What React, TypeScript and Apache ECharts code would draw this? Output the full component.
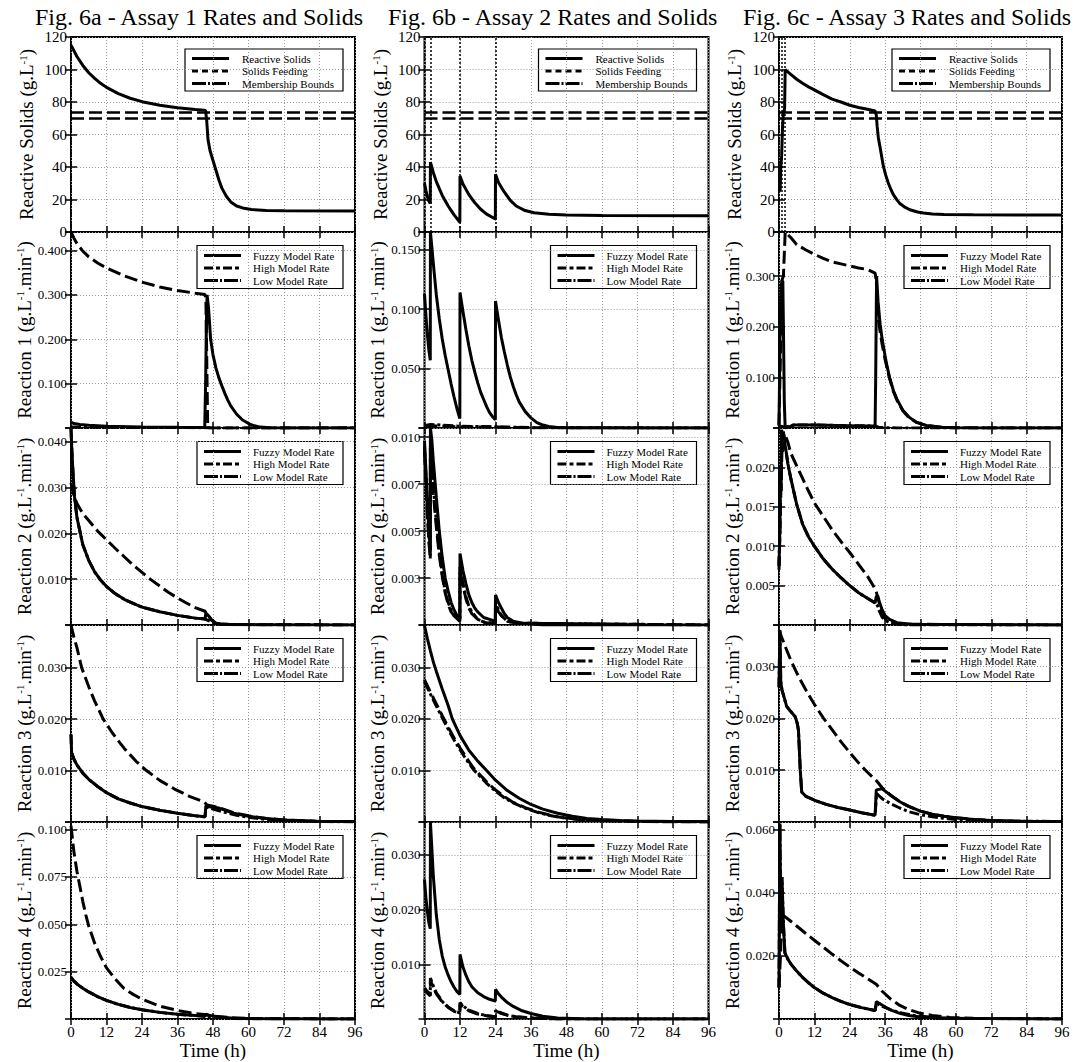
import React, { useEffect, useRef } from "react";
import * as echarts from "echarts";

type Pts = [number, number][];

// ---------------- Fig. 6a : Assay 1 ----------------
const a_solids: Pts = [[0,115],[2,108],[4,102.5],[6,98],[8,94.5],[10,91.5],[12,89],[16,85.2],[20,82.3],[24,80.2],[30,78],[36,76.5],[42,75.4],[45,75],[45.5,74.7],[45.9,68],[46.3,57],[47,50],[48,44],[49,38],[50,32],[51,27],[52.5,22],[54,18.5],[56,16],[58,14.8],[61,13.8],[66,13.3],[72,13.1],[96,13]];
const a_r1_fuzzy: Pts = [[0,0.013],[1,0.01],[3,0.008],[6,0.006],[12,0.004],[24,0.0025],[36,0.0015],[45.2,0.001],[45.5,0.1],[45.8,0.25],[46,0.3],[46.5,0.27],[47.2,0.2],[48,0.165],[49,0.135],[50,0.113],[51,0.095],[52,0.078],[53,0.063],[54,0.05],[56,0.031],[58,0.018],[60,0.01],[62,0.005],[64,0.002],[67,0.0005],[72,0],[96,0]];
const a_r1_high: Pts = [[0,0.002],[12,0.0015],[30,0.001],[45,0.0008],[47,0.0003],[52,0.0001],[96,0]];
const a_r1_low: Pts = [[0,0.442],[1,0.428],[2,0.416],[4,0.399],[6,0.386],[9,0.372],[12,0.361],[18,0.343],[24,0.329],[30,0.318],[36,0.31],[42,0.304],[45.3,0.301],[45.6,0.29],[45.9,0.15],[46.2,0],[96,0]];
const a_r2_fuzzy: Pts = [[0,0.0428],[0.3,0.038],[0.7,0.033],[1.2,0.028],[2,0.0235],[3,0.0205],[4,0.0175],[6,0.0141],[8,0.0116],[10,0.0098],[12,0.0084],[15,0.0068],[18,0.0056],[21,0.0047],[24,0.0039],[30,0.0029],[36,0.0021],[42,0.0015],[45.3,0.0013],[45.6,0.0026],[46.5,0.002],[47.5,0.0011],[49,0.0004],[51,0.0001],[96,0]];
const a_r2_high: Pts = [[0,0.0428],[0.3,0.038],[0.7,0.033],[1.2,0.028],[2,0.0235],[3,0.0205],[4,0.0175],[6,0.0141],[8,0.0116],[10,0.0098],[12,0.0084],[15,0.0068],[18,0.0056],[21,0.0047],[24,0.0039],[30,0.0029],[36,0.0021],[42,0.0015],[45.3,0.0013],[47,0.0008],[50,0.0003],[55,0.0001],[96,0]];
const a_r2_low: Pts = [[0,0.031],[0.5,0.0295],[1,0.0283],[2,0.0265],[4,0.0243],[6,0.0228],[9,0.0205],[12,0.0186],[15,0.0167],[18,0.0149],[21,0.0131],[24,0.0115],[27,0.0099],[30,0.0085],[33,0.0071],[36,0.0059],[39,0.0048],[42,0.0038],[45.3,0.003],[45.7,0.0026],[46.5,0.002],[47.5,0.0011],[49,0.0004],[51,0.0001],[96,0]];
const a_r3_fuzzy: Pts = [[0,0.017],[0.2,0.0135],[1,0.0122],[2,0.0111],[4,0.0095],[6,0.0083],[9,0.0069],[12,0.0057],[16,0.0045],[20,0.0037],[24,0.003],[30,0.0023],[36,0.0017],[42,0.0012],[45.3,0.001],[45.6,0.0032],[46,0.003],[50,0.0027],[55,0.0017],[60,0.0011],[66,0.0007],[72,0.0004],[84,0.0001],[96,0.0001]];
const a_r3_high: Pts = [[0,0.017],[0.2,0.0135],[1,0.0122],[2,0.0111],[4,0.0095],[6,0.0083],[9,0.0069],[12,0.0057],[16,0.0045],[20,0.0037],[24,0.003],[30,0.0023],[36,0.0017],[42,0.0012],[45.3,0.001],[45.6,0.0029],[48,0.0025],[52,0.0019],[56,0.0013],[60,0.0009],[66,0.0005],[72,0.0003],[84,0.0001],[96,0]];
const a_r3_low: Pts = [[0,0.0383],[1,0.0359],[2,0.0339],[3.6,0.03],[6,0.0263],[8,0.0235],[10.9,0.02],[14,0.0173],[18,0.0143],[22,0.0118],[25.5,0.01],[30,0.0081],[35,0.0064],[40,0.005],[45,0.0039],[46,0.0033],[50,0.0028],[55,0.0018],[60,0.0012],[66,0.0007],[72,0.0004],[84,0.0001],[96,0.0001]];
const a_r4_fuzzy: Pts = [[0,0.022],[1,0.02],[2,0.0185],[4,0.0162],[6,0.0143],[9,0.0118],[12,0.0098],[16,0.0077],[20,0.0061],[24,0.0049],[30,0.0035],[36,0.0025],[42,0.0018],[45.3,0.0015],[45.6,0.0025],[47,0.0018],[50,0.001],[55,0.0004],[60,0.0002],[96,0]];
const a_r4_high: Pts = [[0,0.022],[1,0.02],[2,0.0185],[4,0.0162],[6,0.0143],[9,0.0118],[12,0.0098],[16,0.0077],[20,0.0061],[24,0.0049],[30,0.0035],[36,0.0025],[42,0.0018],[45.3,0.0015],[47,0.001],[50,0.0006],[55,0.0002],[96,0]];
const a_r4_low: Pts = [[0,0.102],[1,0.088],[2,0.078],[3,0.07],[4,0.062],[5,0.055],[6,0.049],[8,0.04],[10,0.033],[12,0.027],[15,0.021],[18,0.016],[21,0.013],[24,0.0105],[30,0.0068],[36,0.0045],[42,0.0029],[45,0.0024],[48,0.0015],[54,0.0007],[60,0.0003],[72,0.0001],[96,0]];

// ---------------- Fig. 6b : Assay 2 ----------------
const b_solids: Pts = [[0,30],[0.5,25.5],[1,21.5],[1.5,19],[1.95,17.5],[2,43],[3,36.5],[4,31],[6,22.5],[8,16],[10,10.5],[11.95,6],[12,34.5],[13,29.5],[15,23],[17,18],[19,14],[21,11],[23.95,8],[24,35.5],[25,30.5],[27,24.5],[29,19.5],[31,16],[34,13.2],[37,11.8],[42,10.9],[48,10.5],[60,10.2],[96,10]];
const b_r1_fuzzy: Pts = [[0,0.113],[0.5,0.094],[1,0.078],[1.5,0.065],[1.95,0.057],[2,0.165],[2.5,0.152],[3,0.138],[4,0.112],[5,0.092],[6,0.075],[7,0.061],[8,0.049],[9,0.037],[10,0.026],[11,0.016],[11.95,0.008],[12,0.114],[13,0.098],[14,0.083],[15,0.069],[16,0.057],[17,0.047],[18,0.038],[19,0.03],[20,0.024],[21,0.018],[22,0.013],[23,0.0095],[23.95,0.007],[24,0.107],[25,0.091],[26,0.076],[27,0.064],[28,0.053],[29,0.043],[30,0.035],[31,0.028],[32,0.022],[34,0.014],[36,0.0085],[38,0.0045],[40,0.0025],[42,0.0013],[45,0.0005],[50,0.0001],[96,0]];
const b_r1_high: Pts = [[0,0.002],[2,0.003],[12,0.0015],[24,0.001],[36,0.0003],[96,0]];
const b_r1_low: Pts = [[0,0.001],[2,0.002],[12,0.001],[24,0.0008],[36,0.0002],[96,0]];
const b_r2_fuzzy: Pts = [[0,0.0098],[0.5,0.0082],[1,0.0065],[1.5,0.005],[1.95,0.004],[2,0.0105],[2.5,0.0098],[3,0.0087],[4,0.0068],[5,0.005],[6,0.0036],[7,0.0025],[8,0.0018],[9,0.0012],[10,0.0008],[11,0.0005],[11.95,0.0003],[12,0.0038],[13,0.0029],[14,0.0022],[15,0.0016],[16,0.0012],[17,0.0009],[18,0.0007],[20,0.0004],[22,0.0003],[23.95,0.0002],[24,0.0016],[25,0.0012],[26,0.0009],[27,0.0006],[28,0.0004],[30,0.0002],[33,0.0001],[40,0],[96,0]];
const b_r2_high: Pts = [[0,0.0095],[0.5,0.0078],[1,0.006],[1.5,0.0046],[1.95,0.0037],[2,0.0098],[2.5,0.0086],[3,0.0073],[4,0.0055],[5,0.0039],[6,0.0027],[7,0.0018],[8,0.0012],[9,0.0008],[10,0.0005],[11.95,0.0002],[12,0.0031],[13,0.0022],[14,0.0015],[15,0.001],[16,0.0007],[18,0.0003],[21,0.0001],[23.95,0.0001],[24,0.0012],[25,0.0008],[26,0.0005],[28,0.0002],[31,0.0001],[96,0]];
const b_r2_low: Pts = [[0,0.0092],[0.5,0.0075],[1,0.0058],[1.5,0.0044],[1.95,0.0035],[2,0.0094],[2.5,0.0082],[3,0.007],[4,0.0052],[5,0.0037],[6,0.0026],[7,0.0017],[8,0.0011],[9,0.0007],[10,0.0005],[11.95,0.0002],[12,0.0029],[13,0.0021],[14,0.0014],[15,0.0009],[16,0.0006],[18,0.0003],[21,0.0001],[23.95,0.0001],[24,0.0011],[25,0.0007],[26,0.0005],[28,0.0002],[31,0.0001],[96,0]];
const b_r3_fuzzy: Pts = [[0,0.0381],[1,0.0355],[2,0.0332],[3,0.031],[4,0.0292],[6,0.0258],[8,0.0226],[9.4,0.02],[12,0.0168],[15,0.0139],[18,0.0118],[21,0.01],[24,0.0081],[28,0.0061],[32,0.0046],[36,0.0034],[40,0.0025],[45,0.0017],[50,0.0011],[55,0.0007],[60,0.0005],[66,0.0003],[72,0.0002],[84,0.0001],[96,0.0001]];
const b_r3_high: Pts = [[0,0.0272],[1,0.026],[2,0.0248],[4,0.0225],[6,0.0202],[8,0.018],[10,0.0159],[12,0.014],[14,0.0122],[16.5,0.0102],[18,0.0093],[21,0.0075],[24,0.006],[27,0.0047],[30,0.0037],[34,0.0027],[38,0.0019],[42,0.0013],[46,0.0009],[52,0.0005],[60,0.0003],[72,0.0001],[96,0]];
const b_r3_low: Pts = [[0,0.0276],[1,0.0264],[2,0.0252],[4,0.0229],[6,0.0206],[8,0.0184],[10,0.0163],[12,0.0144],[14,0.0126],[16.5,0.0105],[18,0.0096],[21,0.0078],[24,0.0062],[27,0.0049],[30,0.0038],[34,0.0028],[38,0.002],[42,0.0014],[46,0.0009],[52,0.0005],[60,0.0003],[72,0.0001],[96,0]];
const b_r4_fuzzy: Pts = [[0,0.0255],[0.5,0.022],[1,0.0195],[1.5,0.0175],[1.95,0.0165],[2,0.036],[2.5,0.031],[3,0.026],[4,0.019],[5,0.0145],[6,0.0115],[7,0.0095],[8,0.008],[9,0.0068],[10,0.0058],[11,0.005],[11.95,0.0045],[12,0.0118],[13,0.0095],[14,0.008],[15,0.0068],[16,0.0059],[18,0.0048],[20,0.0041],[22,0.0036],[23.95,0.0033],[24,0.0054],[25,0.0046],[26,0.004],[28,0.003],[30,0.0023],[33,0.0015],[36,0.001],[40,0.0005],[45,0.0002],[55,0],[96,0]];
const b_r4_high: Pts = [[0,0.0057],[1,0.005],[1.95,0.0045],[2,0.0075],[3,0.006],[4,0.0048],[6,0.0032],[8,0.0022],[10,0.0015],[11.95,0.0011],[12,0.003],[13,0.0024],[15,0.0016],[18,0.001],[21,0.0006],[23.95,0.0004],[24,0.0016],[26,0.0011],[28,0.0007],[31,0.0004],[36,0.0002],[45,0],[96,0]];
const b_r4_low: Pts = [[0,0.0054],[1,0.0047],[1.95,0.0042],[2,0.0071],[3,0.0057],[4,0.0046],[6,0.0031],[8,0.0021],[10,0.0014],[11.95,0.001],[12,0.0028],[13,0.0023],[15,0.0015],[18,0.0009],[21,0.0006],[23.95,0.0004],[24,0.0015],[26,0.001],[28,0.0007],[31,0.0004],[36,0.0002],[45,0],[96,0]];

// ---------------- Fig. 6c : Assay 3 ----------------
const c_solids: Pts = [[0,25],[0.4,26],[0.6,40],[0.9,47],[1.2,65],[1.5,73],[1.9,76],[2.1,100],[3,98.5],[4,97],[6,94],[8,91.5],[10,89.3],[12,87.5],[15,84.5],[18,81.8],[21,80],[24,78],[27,76.6],[30,75.5],[32.6,74.5],[33,72],[33.3,65],[33.7,58],[34.3,52],[35.4,40.5],[36.2,35],[37.1,30],[38,26],[38.8,23],[40,19.8],[41,17.5],[42.5,15.5],[44.4,13.7],[47,12.3],[49,11.7],[52,11.1],[56,10.8],[66,10.6],[96,10.4]];
const c_r1_fuzzy: Pts = [[0,0.005],[0.4,0.2],[0.7,0.28],[1,0.29],[1.3,0.29],[1.5,0.2],[1.8,0.05],[2.1,0],[3,0.001],[5,0.006],[8,0.006],[12,0.006],[20,0.005],[28,0.004],[32.6,0.004],[32.8,0.1],[33.1,0.3],[33.6,0.25],[34.3,0.205],[35,0.175],[36,0.142],[36.5,0.126],[37.5,0.1],[38.8,0.074],[40,0.057],[42,0.035],[44,0.022],[46.7,0.011],[50,0.005],[55,0.0015],[60,0.0005],[70,0],[96,0]];
const c_r1_high: Pts = [[0,0.004],[2,0.002],[5,0.006],[12,0.006],[20,0.005],[32.6,0.004],[34,0.001],[40,0],[96,0]];
const c_r1_low: Pts = [[0,0.005],[0.5,0.15],[0.9,0.29],[1.5,0.3],[2.1,0.387],[4,0.376],[6,0.362],[9,0.352],[12,0.343],[15,0.335],[18,0.328],[21,0.324],[24,0.32],[27,0.316],[30,0.313],[32.6,0.306],[33,0.29],[33.3,0.25],[33.6,0.22],[34.3,0.19],[35,0.165],[36,0.135],[37.5,0.098],[38.8,0.072],[40,0.055],[42,0.034],[44,0.021],[46.7,0.011],[50,0.005],[55,0.0015],[60,0.0005],[70,0],[96,0]];
const c_r2_fuzzy: Pts = [[0,0.0075],[0.3,0.012],[0.5,0.02],[0.7,0.017],[0.9,0.0248],[1.2,0.022],[1.5,0.0245],[2,0.023],[2.5,0.0218],[3,0.0205],[4,0.0186],[6,0.0153],[8,0.0128],[10,0.0112],[12,0.01],[15,0.0084],[18,0.0071],[21,0.006],[24,0.005],[27,0.0041],[30,0.0034],[32.6,0.0028],[33,0.0036],[33.5,0.0037],[34,0.003],[35,0.0019],[36,0.0012],[37.5,0.0007],[40,0.0003],[45,0.0001],[96,0]];
const c_r2_high: Pts = [[0,0.0075],[0.3,0.012],[0.5,0.02],[0.7,0.017],[0.9,0.0248],[1.2,0.022],[1.5,0.0245],[2,0.023],[2.5,0.0218],[3,0.0205],[4,0.0186],[6,0.0153],[8,0.0128],[10,0.0112],[12,0.01],[15,0.0084],[18,0.0071],[21,0.006],[24,0.005],[27,0.0041],[30,0.0034],[32.6,0.0028],[33.5,0.0024],[34,0.0018],[35,0.001],[36,0.0006],[38,0.0002],[42,0],[96,0]];
const c_r2_low: Pts = [[0,0.007],[0.5,0.015],[1,0.022],[1.5,0.0245],[2.2,0.024],[3,0.0232],[4,0.0218],[6,0.0202],[8,0.0186],[10,0.017],[12,0.0155],[15,0.0138],[18,0.0121],[21,0.0106],[24,0.0092],[27,0.0077],[30,0.0062],[32.6,0.0046],[33,0.0042],[34,0.0028],[35,0.0014],[36,0.0008],[38,0.0003],[42,0.0001],[96,0]];
const c_r3_fuzzy: Pts = [[0,0.026],[0.3,0.037],[0.6,0.027],[1,0.0255],[2,0.0235],[2.6,0.0223],[4,0.0213],[5.5,0.0203],[6.2,0.019],[6.6,0.0177],[6.9,0.014],[7.2,0.0101],[7.7,0.0058],[9,0.005],[12,0.0042],[16,0.0034],[20,0.0028],[24,0.0023],[28,0.0018],[32.6,0.0013],[33,0.0062],[35,0.0064],[38,0.0051],[41,0.0039],[44,0.003],[48,0.0021],[52,0.0015],[56,0.0011],[60,0.0008],[66,0.0005],[72,0.0003],[84,0.0001],[96,0.0001]];
const c_r3_high: Pts = [[0,0.026],[0.3,0.037],[0.6,0.027],[1,0.0255],[2,0.0235],[2.6,0.0223],[4,0.0213],[5.5,0.0203],[6.2,0.019],[6.6,0.0177],[6.9,0.014],[7.2,0.0101],[7.7,0.0058],[9,0.005],[12,0.0042],[16,0.0034],[20,0.0028],[24,0.0023],[28,0.0018],[32.6,0.0013],[33.1,0.0055],[35,0.0045],[38,0.0035],[41,0.0027],[44,0.002],[48,0.0014],[52,0.001],[56,0.0007],[60,0.0005],[72,0.0002],[96,0.0001]];
const c_r3_low: Pts = [[0,0.037],[1,0.0355],[2,0.034],[4,0.0312],[6,0.0288],[8,0.0266],[10,0.0246],[12,0.0227],[15,0.0201],[18,0.0178],[21,0.0155],[24,0.0134],[27,0.0114],[30,0.0096],[33,0.008],[35,0.0066],[38,0.0051],[41,0.0039],[44,0.003],[48,0.0021],[52,0.0015],[56,0.0011],[60,0.0008],[66,0.0005],[72,0.0003],[84,0.0001],[96,0.0001]];
const c_r4_fuzzy: Pts = [[0,0.01],[0.3,0.062],[0.6,0.03],[1,0.045],[1.5,0.03],[2,0.021],[3,0.019],[4,0.0175],[6,0.0152],[8,0.0132],[10,0.0115],[12,0.01],[15,0.0082],[18,0.0068],[21,0.0056],[24,0.0046],[28,0.0036],[32.6,0.0027],[33,0.0055],[34,0.005],[36,0.0038],[38,0.0028],[41,0.0018],[44,0.0011],[48,0.0006],[55,0.0002],[96,0]];
const c_r4_high: Pts = [[0,0.01],[0.3,0.062],[0.6,0.03],[1,0.045],[1.5,0.03],[2,0.021],[3,0.019],[4,0.0175],[6,0.0152],[8,0.0132],[10,0.0115],[12,0.01],[15,0.0082],[18,0.0068],[21,0.0056],[24,0.0046],[28,0.0036],[32.6,0.0027],[33.1,0.005],[35,0.004],[38,0.0029],[42,0.0018],[46,0.0011],[52,0.0005],[60,0.0002],[96,0]];
const c_r4_low: Pts = [[0,0.01],[0.5,0.02],[1,0.033],[2,0.0325],[4,0.031],[6,0.0295],[9,0.0272],[12,0.025],[15,0.0228],[18,0.0206],[21,0.0185],[24,0.0165],[27,0.0146],[30,0.0128],[33,0.011],[35,0.0088],[38,0.0062],[41,0.0043],[44,0.003],[48,0.0018],[52,0.0011],[58,0.0005],[66,0.0002],[96,0]];

// Feeding times (h) and fuzzy membership bounds (g/L)
const feedA = [0];
const feedB = [0, 2, 12, 24];
const feedC = [0, 0.9, 2.1];
const membershipBounds = [70, 74];

const titles = [
  "Fig. 6a - Assay 1 Rates and Solids",
  "Fig. 6b - Assay 2 Rates and Solids",
  "Fig. 6c - Assay 3 Rates and Solids",
];
const rowLabels = ["Reactive Solids", "Reaction 1", "Reaction 2", "Reaction 3", "Reaction 4"];
const yMaxes = [
  [120, 0.442, 0.043, 0.0383, 0.104],
  [120, 0.165, 0.01048, 0.0382, 0.036],
  [120, 0.387, 0.025, 0.038, 0.0625],
];
const yIntervals = [
  [20, 0.1, 0.01, 0.01, 0.025],
  [20, 0.05, 0.0025, 0.01, 0.01],
  [20, 0.1, 0.005, 0.01, 0.02],
];
const solidsLegend = ["Reactive Solids", "Solids Feeding", "Membership Bounds"];
const rateLegend = ["Fuzzy Model Rate", "High Model Rate", "Low Model Rate"];

const columns = [
  { solids: a_solids, feed: feedA, rates: [[a_r1_fuzzy, a_r1_high, a_r1_low], [a_r2_fuzzy, a_r2_high, a_r2_low], [a_r3_fuzzy, a_r3_high, a_r3_low], [a_r4_fuzzy, a_r4_high, a_r4_low]] },
  { solids: b_solids, feed: feedB, rates: [[b_r1_fuzzy, b_r1_high, b_r1_low], [b_r2_fuzzy, b_r2_high, b_r2_low], [b_r3_fuzzy, b_r3_high, b_r3_low], [b_r4_fuzzy, b_r4_high, b_r4_low]] },
  { solids: c_solids, feed: feedC, rates: [[c_r1_fuzzy, c_r1_high, c_r1_low], [c_r2_fuzzy, c_r2_high, c_r2_low], [c_r3_fuzzy, c_r3_high, c_r3_low], [c_r4_fuzzy, c_r4_high, c_r4_low]] },
];

// ---------------- layout & style ----------------
const FONT = "Liberation Serif";
const colLeft = [71, 424.5, 779];
const colWidth = [284, 284, 283];
const titleLeft = [35, 388, 743];
const rowTop = [37, 232, 428, 625, 822];
const rowHeight = [195, 196, 197, 197, 197];

const DASH_HIGH = [10, 3, 3, 3];
const DASH_LOW = [13, 5];
const LEG_SOLIDS_DASH = [null, [6, 4], [14, 2, 2, 2]];
const LEG_RATE_DASH = [null, [9, 3, 4, 3], [14, 2, 2, 2]];

function buildOption() {
  const grid: any[] = [];
  const xAxis: any[] = [];
  const yAxis: any[] = [];
  const series: any[] = [];
  const graphic: any[] = [];
  const title: any[] = [];

  const tickStyle = { show: true, inside: true, length: 6, lineStyle: { color: "#000", width: 1.5 } };
  const splitStyle = { show: true, lineStyle: { color: "#9a9a9a", width: 1, type: [1, 2] } };

  for (let c = 0; c < 3; c++) {
    title.push({
      text: titles[c], left: titleLeft[c], top: 8, padding: 0,
      textStyle: { fontFamily: FONT, fontSize: 24, lineHeight: 18, fontWeight: "normal", color: "#000" },
    });
    for (let r = 0; r < 5; r++) {
      const p = c * 5 + r;
      const left = colLeft[c], top = rowTop[r], width = colWidth[c], height = rowHeight[r];
      grid.push({ left, top, width, height, show: true, borderColor: "#000", borderWidth: 2, backgroundColor: "transparent" });
      const bottomRow = r === 4;
      xAxis.push({
        type: "value", gridIndex: p, min: 0, max: 96, interval: 12, position: "bottom",
        axisLine: { show: false }, axisTick: tickStyle,
        axisLabel: { show: bottomRow, fontFamily: FONT, fontSize: 15, color: "#000", margin: 5 },
        splitLine: splitStyle,
        name: bottomRow ? "Time (h)" : "", nameLocation: "middle", nameGap: 22,
        nameTextStyle: { fontFamily: FONT, fontSize: 19, color: "#000" },
      });
      xAxis.push({
        type: "value", gridIndex: p, min: 0, max: 96, interval: 12, position: "top",
        axisLine: { show: false }, axisTick: tickStyle, axisLabel: { show: false }, splitLine: { show: false },
      });
      const isSolids = r === 0;
      const yName = isSolids
        ? "{n|Reactive Solids (g.L}{s|-1}{n|)}"
        : "{n|" + rowLabels[r] + " (g.L}{s|-1}{n|.min}{s|-1}{n|)}";
      yAxis.push({
        type: "value", gridIndex: p, min: 0, max: yMaxes[c][r], interval: yIntervals[c][r], position: "left",
        axisLine: { show: false }, axisTick: tickStyle,
        axisLabel: {
          show: true, fontFamily: FONT, fontSize: isSolids ? 15 : 13, color: "#000", margin: 4,
          showMinLabel: isSolids, showMaxLabel: isSolids,
          formatter: (v: number) => (isSolids ? String(Math.round(v)) : v.toFixed(3)),
        },
        splitLine: splitStyle,
        name: yName, nameLocation: "middle", nameGap: 35,
        nameTextStyle: {
          fontFamily: FONT, fontSize: 19, color: "#000",
          rich: {
            n: { fontFamily: FONT, fontSize: 19, color: "#000" },
            s: { fontFamily: FONT, fontSize: 11, color: "#000", verticalAlign: "top", lineHeight: 11 },
          },
        },
      });
      yAxis.push({
        type: "value", gridIndex: p, min: 0, max: yMaxes[c][r], interval: yIntervals[c][r], position: "right",
        axisLine: { show: false }, axisTick: tickStyle, axisLabel: { show: false }, splitLine: { show: false },
      });

      const xi = 2 * p, yi = 2 * p;
      const base = { type: "line", xAxisIndex: xi, yAxisIndex: yi, showSymbol: false, symbol: "none", silent: true, clip: true };
      if (isSolids) {
        series.push({
          ...base, name: "Membership Bounds", data: [], z: 2,
          markLine: {
            silent: true, symbol: ["none", "none"], label: { show: false },
            lineStyle: { color: "#000", width: 2.5, type: DASH_LOW },
            data: membershipBounds.map((b) => ({ yAxis: b })),
          },
        });
        series.push({
          ...base, name: "Solids Feeding", data: [], z: 2,
          markLine: {
            silent: true, symbol: ["none", "none"], label: { show: false },
            lineStyle: { color: "#000", width: 1.5, type: [2, 2] },
            data: columns[c].feed.map((t) => ({ xAxis: t })),
          },
        });
        series.push({ ...base, name: "Reactive Solids", data: columns[c].solids, z: 3, lineStyle: { color: "#000", width: 3 } });
      } else {
        const [fz, hi, lo] = columns[c].rates[r - 1];
        series.push({ ...base, name: "Low Model Rate", data: lo, z: 3, lineStyle: { color: "#000", width: 3, type: DASH_LOW } });
        series.push({ ...base, name: "High Model Rate", data: hi, z: 3, lineStyle: { color: "#000", width: 3, type: DASH_HIGH } });
        series.push({ ...base, name: "Fuzzy Model Rate", data: fz, z: 4, lineStyle: { color: "#000", width: 3 } });
      }

      // legend box
      const names = isSolids ? solidsLegend : rateLegend;
      const dashes = isSolids ? LEG_SOLIDS_DASH : LEG_RATE_DASH;
      const bw = isSolids ? 158 : 146;
      const bh = isSolids ? 42 : 43;
      const bx = left + width - 12 - bw;
      const by = top + (isSolids ? 12 : 13.5);
      const children: any[] = [
        { type: "rect", shape: { x: bx, y: by, width: bw, height: bh }, style: { fill: "#fff", stroke: "#000", lineWidth: 1.2 } },
      ];
      for (let i = 0; i < 3; i++) {
        const ly = by + (isSolids ? 9.5 : 10) + i * 12.5;
        children.push({
          type: "line", shape: { x1: bx + 7, y1: ly, x2: bx + 44, y2: ly },
          style: { stroke: "#000", lineWidth: 3, lineDash: dashes[i] || undefined },
        });
        children.push({
          type: "text", x: bx + (isSolids ? 57 : 56), y: ly,
          style: { text: names[i], fontFamily: FONT, fontSize: 11, fill: "#000", align: "left", verticalAlign: "middle" },
        });
      }
      graphic.push({ type: "group", z: 100, silent: true, children });
    }
  }

  return { animation: false, backgroundColor: "#fff", title, grid, xAxis, yAxis, series, graphic };
}

export default function App() {
  const ref = useRef<HTMLDivElement>(null);
  useEffect(() => {
    if (!ref.current) return;
    const chart = echarts.init(ref.current, null, { renderer: "svg" });
    chart.setOption(buildOption() as any);
    return () => chart.dispose();
  }, []);
  return (
    <div
      ref={ref}
      style={{ position: "absolute", left: 0, top: 0, width: 1079, height: 1062, background: "#fff" }}
    />
  );
}
